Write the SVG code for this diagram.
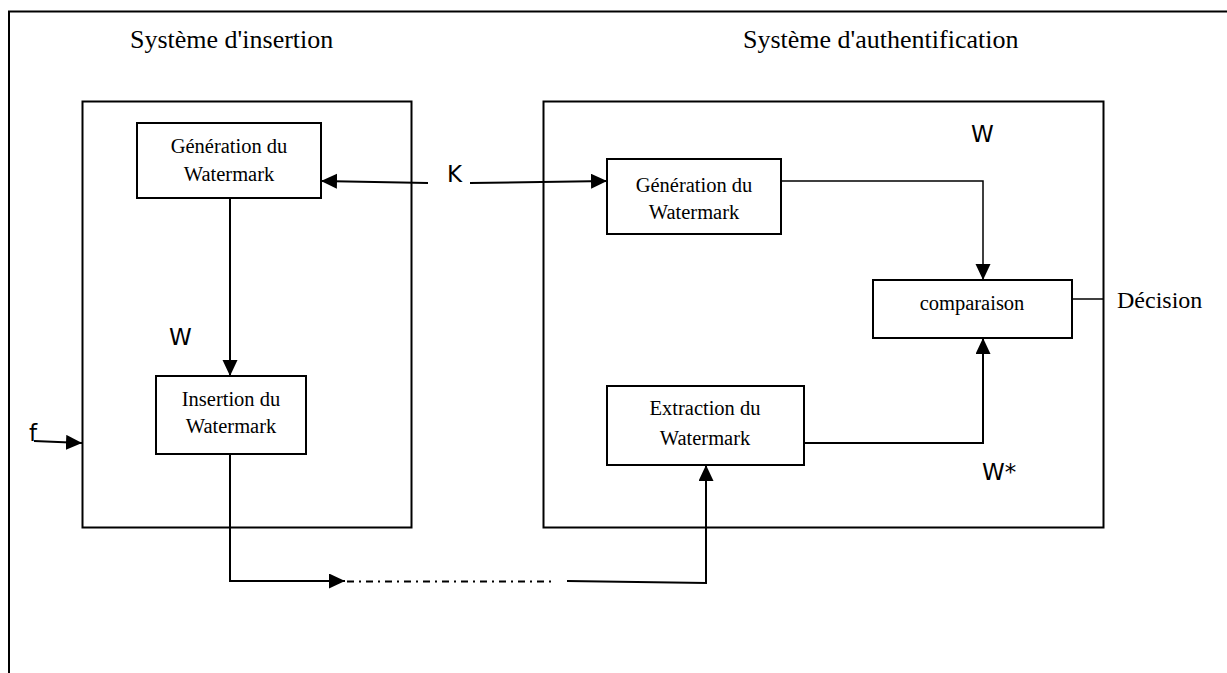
<svg xmlns="http://www.w3.org/2000/svg" width="1227" height="673" viewBox="0 0 1227 673">
<defs>
<marker id="arr" markerUnits="userSpaceOnUse" markerWidth="17" markerHeight="16" refX="16" refY="7.5" orient="auto">
<path d="M0,0 L16,7.5 L0,15 z" fill="#000"/>
</marker>
<style>
.box{fill:#fff;stroke:#000;stroke-width:2}
.frame{fill:none;stroke:#000;stroke-width:2}
.t{font-family:"Liberation Serif","Times New Roman",serif;font-size:20.5px;fill:#000;text-anchor:middle}
.title{font-family:"Liberation Serif","Times New Roman",serif;font-size:26px;fill:#000}
.dec{font-family:"Liberation Serif","Times New Roman",serif;font-size:24px;fill:#000}
.lbl{font-family:"DejaVu Sans",Verdana,sans-serif;font-size:23px;fill:#000}
.c{fill:none;stroke:#000;stroke-width:2}
.cn{fill:none;stroke:#000;stroke-width:1.5}
</style>
</defs>
<rect width="1227" height="673" fill="#fff"/>
<g id="frame">
<path class="frame" d="M9,673 V11.5 H1227"/>
<text class="title" x="130" y="48">Système d'insertion</text>
<text class="title" x="743" y="48">Système d'authentification</text>
</g>
<g id="insertion-system">
<rect class="frame" x="82.5" y="101.5" width="329" height="426"/>
</g>
<g id="authentication-system">
<rect class="frame" x="543.5" y="101.5" width="560" height="426"/>
</g>
<g id="gen-left">
<rect class="box" x="137" y="123" width="184" height="75"/>
<text class="t" x="229" y="153">Génération du</text>
<text class="t" x="229" y="181">Watermark</text>
</g>
<g id="insert">
<rect class="box" x="156" y="376" width="150" height="78"/>
<text class="t" x="231" y="406">Insertion du</text>
<text class="t" x="231" y="433">Watermark</text>
</g>
<g id="gen-right">
<rect class="box" x="607" y="159" width="174" height="75"/>
<text class="t" x="694" y="192">Génération du</text>
<text class="t" x="694" y="219">Watermark</text>
</g>
<g id="extract">
<rect class="box" x="607" y="386" width="197" height="79"/>
<text class="t" x="705" y="415">Extraction du</text>
<text class="t" x="705" y="445">Watermark</text>
</g>
<g id="compare">
<rect class="box" x="873" y="280" width="199" height="58"/>
<text class="t" x="972" y="310">comparaison</text>
</g>
<g id="connectors">
<path class="c" d="M428,183 L321,181" marker-end="url(#arr)"/>
<path class="c" d="M470,183 L607,181" marker-end="url(#arr)"/>
<path class="c" d="M230,198 V376" marker-end="url(#arr)"/>
<path class="cn" d="M781,181 H983 V280" marker-end="url(#arr)"/>
<path class="c" d="M804,443 H983 V338" marker-end="url(#arr)"/>
<path class="cn" d="M1072,299 H1104"/>
<path class="c" d="M34,441 L82,443" marker-end="url(#arr)"/>
<path class="c" d="M230,454 V581 H345" marker-end="url(#arr)"/>
<path class="c" d="M347,581.5 H553" stroke-dasharray="7 5 2 5" stroke-width="2.2"/>
<path class="c" d="M567,581 L706,583 V465" marker-end="url(#arr)"/>
<text class="lbl" x="447" y="182">K</text>
<text class="lbl" x="169" y="345">W</text>
<text class="lbl" x="971" y="142">W</text>
<text class="lbl" x="982" y="480">W*</text>
<text class="lbl" x="29" y="441">f</text>
<text class="dec" x="1117" y="308">Décision</text>
</g>
</svg>
